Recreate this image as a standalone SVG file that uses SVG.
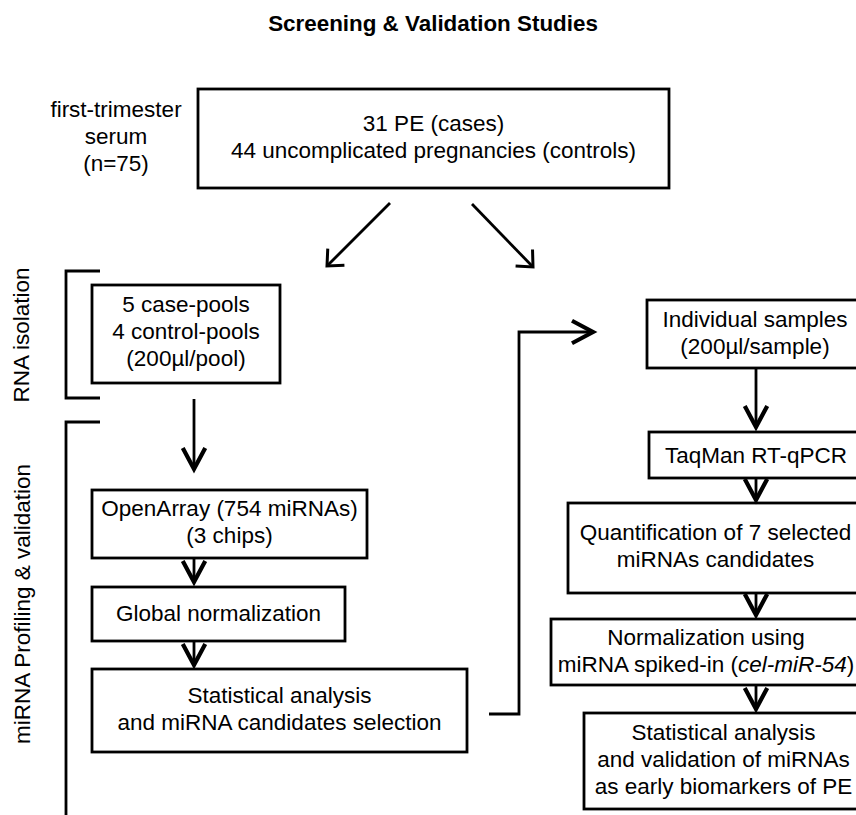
<svg xmlns="http://www.w3.org/2000/svg" width="856" height="815" viewBox="0 0 856 815">
<style>
  text { font-family: "Liberation Sans", Arial, sans-serif; font-size: 22.5px; fill: #000; text-anchor: middle; }
  .title { font-weight: bold; font-size: 22.4px; }
  .box { fill: #fff; stroke: #000; stroke-width: 2.8; }
  .line { fill: none; stroke: #000; stroke-width: 2.8; }
</style>
<defs>
  <marker id="arrow" markerUnits="userSpaceOnUse" markerWidth="30" markerHeight="30" refX="0" refY="0" viewBox="-16 -10 20 20" orient="auto">
    <path d="M -14 -7.5 L 0 0 L -14 7.5" fill="none" stroke="#000" stroke-width="2.8" stroke-linejoin="miter"/>
  </marker>
  <marker id="arrowWide" markerUnits="userSpaceOnUse" markerWidth="30" markerHeight="30" refX="0" refY="0" viewBox="-16 -14 20 28" orient="auto">
    <path d="M -12 -11 L 0 0 L -12 11" fill="none" stroke="#000" stroke-width="2.8" stroke-linejoin="miter"/>
  </marker>
</defs>
<rect width="856" height="815" fill="#fff"/>

<text class="title" x="433" y="31">Screening &amp; Validation Studies</text>

<g id="label-serum">
  <text x="116" y="117">first-trimester</text>
  <text x="116" y="144">serum</text>
  <text x="116" y="171">(n=75)</text>
</g>

<g id="label-rna-isolation">
  <text transform="translate(29,335) rotate(-90)">RNA isolation</text>
  <path class="line" d="M 100 271 L 66 271 L 66 398 L 100 398"/>
</g>

<g id="label-profiling">
  <text transform="translate(30,604) rotate(-90)">miRNA Profiling &amp; validation</text>
  <path class="line" d="M 100 422 L 66 422 L 66 816"/>
</g>

<g id="node-cohort">
  <rect class="box" x="198" y="89" width="471" height="99"/>
  <text x="433.5" y="131">31 PE (cases)</text>
  <text x="433.5" y="158">44 uncomplicated pregnancies (controls)</text>
</g>

<g id="node-pools">
  <rect class="box" x="92" y="285" width="188" height="98"/>
  <text x="186" y="312">5 case-pools</text>
  <text x="186" y="339">4 control-pools</text>
  <text x="186" y="366">(200µl/pool)</text>
</g>

<g id="node-openarray">
  <rect class="box" x="92" y="490" width="275" height="68"/>
  <text x="229.5" y="516">OpenArray (754 miRNAs)</text>
  <text x="229.5" y="543">(3 chips)</text>
</g>

<g id="node-global">
  <rect class="box" x="92" y="587" width="253" height="54"/>
  <text x="218.5" y="621">Global normalization</text>
</g>

<g id="node-stat1">
  <rect class="box" x="92" y="669" width="375" height="83"/>
  <text x="279.5" y="703">Statistical analysis</text>
  <text x="279.5" y="730">and miRNA candidates selection</text>
</g>

<g id="node-individual">
  <rect class="box" x="647" y="300" width="216" height="68"/>
  <text x="755" y="327">Individual samples</text>
  <text x="755" y="354">(200µl/sample)</text>
</g>

<g id="node-taqman">
  <rect class="box" x="649" y="432" width="214" height="46"/>
  <text x="756" y="463">TaqMan RT-qPCR</text>
</g>

<g id="node-quant">
  <rect class="box" x="568" y="503" width="295" height="90"/>
  <text x="715.5" y="540">Quantification of 7 selected</text>
  <text x="715.5" y="567">miRNAs candidates</text>
</g>

<g id="node-norm">
  <rect class="box" x="551" y="619" width="312" height="66"/>
  <text x="706" y="645">Normalization using</text>
  <text x="706" y="672">miRNA spiked-in (<tspan font-style="italic">cel-miR-54</tspan>)</text>
</g>

<g id="node-stat2">
  <rect class="box" x="584" y="713" width="279" height="96"/>
  <text x="723.5" y="740">Statistical analysis</text>
  <text x="723.5" y="767">and validation of miRNAs</text>
  <text x="723.5" y="794">as early biomarkers of PE</text>
</g>

<g id="connectors">
  <path class="line" d="M 390 203 L 327 266" marker-end="url(#arrowWide)"/>
  <path class="line" d="M 472 204 L 533 267" marker-end="url(#arrowWide)"/>
  <path class="line" d="M 194 399 L 194 469" marker-end="url(#arrow)"/>
  <path class="line" d="M 194 558 L 194 582" marker-end="url(#arrow)"/>
  <path class="line" d="M 194 641 L 194 665" marker-end="url(#arrow)"/>
  <path class="line" d="M 489 714 L 519 714 L 519 332 L 593 332" marker-end="url(#arrow)"/>
  <path class="line" d="M 756 368 L 756 427" marker-end="url(#arrow)"/>
  <path class="line" d="M 756 478 L 756 500" marker-end="url(#arrow)"/>
  <path class="line" d="M 756 593 L 756 615" marker-end="url(#arrow)"/>
  <path class="line" d="M 756 685 L 756 709" marker-end="url(#arrow)"/>
</g>
</svg>
